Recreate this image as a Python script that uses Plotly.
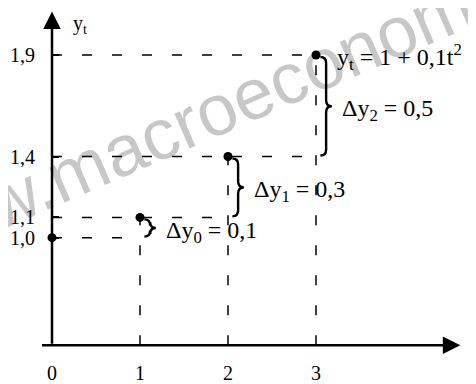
import plotly.graph_objects as go

# ---- data ----
T = [0, 1, 2, 3]
Y = [1.0, 1.1, 1.4, 1.9]
T_LABELS = ["0", "1", "2", "3"]
Y_LABELS = ["1,0", "1,1", "1,4", "1,9"]
EQUATION = "y<sub>t</sub> = 1 + 0,1t<sup>2</sup>"
Y_AXIS_TITLE = "y<sub>t</sub>"
X_AXIS_TITLE = "t"
WATERMARK = "www.macroeconomics"

# ---- layout constants (page has an 8px body margin) ----
W, H = 468, 376
MB = 22
X0PX, XSCALE = 44, 88
YC, YSCALE, YCV = 160, 204.7, 1.35
X_RANGE = [-X0PX / XSCALE, (W - X0PX) / XSCALE]
Y_RANGE = [YCV - (H - MB - YC) / YSCALE, YCV + YC / YSCALE]
Y_BASE = 0.47          # level of the horizontal axis
X_LEFT = -0.13         # left end of horizontal axis
X_END = 4.64           # arrow tip of horizontal axis
Y_END = 2.115          # arrow tip of vertical axis
SERIF = "Liberation Serif"
DASH = "10px,20px"

fig = go.Figure()

# horizontal dashed guides
for k, (t, y) in enumerate(zip(T, Y)):
    end = T[min(k + 1, len(T) - 1)]
    fig.add_trace(go.Scatter(x=[T[0], end], y=[y, y], mode="lines",
                             line=dict(color="black", width=1.5, dash=DASH),
                             hoverinfo="skip", showlegend=False))
# vertical dashed guides
for t, y in zip(T[1:], Y[1:]):
    fig.add_trace(go.Scatter(x=[t, t], y=[Y_BASE, y], mode="lines",
                             line=dict(color="black", width=1.5, dash=DASH),
                             hoverinfo="skip", showlegend=False))
# points
fig.add_trace(go.Scatter(x=T, y=Y, mode="markers",
                         marker=dict(color="black", size=9),
                         showlegend=False))


def brace_path(x0, ylo, yhi, w=0.13, hk=0.03):
    xm = x0 + w / 2
    ym = (ylo + yhi) / 2
    return (f"M {x0},{yhi} Q {xm},{yhi} {xm},{yhi - hk} "
            f"L {xm},{ym + hk} Q {xm},{ym} {x0 + w},{ym} "
            f"Q {xm},{ym} {xm},{ym - hk} "
            f"L {xm},{ylo + hk} Q {xm},{ylo} {x0},{ylo}")


shapes = []
annotations = []
for k in range(len(T) - 1):
    t = T[k + 1]
    ylo, yhi = Y[k], Y[k + 1]
    d = Y[k + 1] - Y[k]
    shapes.append(dict(type="path", xref="x", yref="y",
                       path=brace_path(t + 0.05, ylo + 0.005, yhi - 0.01),
                       line=dict(color="black", width=2.4)))
    lbl = f"Δy<sub>{k}</sub> = " + f"{d:.1f}".replace(".", ",")
    annotations.append(dict(x=t + 0.27, y=(ylo + yhi) / 2, xref="x", yref="y",
                            text=lbl, showarrow=False, xanchor="left",
                            yanchor="middle", yshift=-4,
                            font=dict(family=SERIF, size=24, color="black")))

# equation label
annotations.append(dict(x=T[-1] + 0.22, y=Y[-1], xref="x", yref="y",
                        text=EQUATION, showarrow=False, xanchor="left",
                        yanchor="middle", yshift=-2,
                        font=dict(family=SERIF, size=24, color="black")))
# axis titles
annotations.append(dict(x=0.22, y=2.05, xref="x", yref="y", text=Y_AXIS_TITLE,
                        showarrow=False, xanchor="left", yanchor="middle",
                        font=dict(family=SERIF, size=20, color="black")))
annotations.append(dict(x=4.76, y=Y_BASE, xref="x", yref="y", yshift=-14,
                        text=X_AXIS_TITLE, showarrow=False, xanchor="left",
                        yanchor="middle",
                        font=dict(family=SERIF, size=20, color="black")))
# axes arrows
annotations.append(dict(x=X_END, y=Y_BASE, ax=X_LEFT, ay=Y_BASE,
                        xref="x", yref="y", axref="x", ayref="y", text="",
                        showarrow=True, arrowhead=2, arrowsize=1.4,
                        arrowwidth=2.5, arrowcolor="black"))
annotations.append(dict(x=0, y=Y_END, ax=0, ay=Y_BASE,
                        xref="x", yref="y", axref="x", ayref="y", text="",
                        showarrow=True, arrowhead=2, arrowsize=1.4,
                        arrowwidth=2.5, arrowcolor="black"))
# watermark
annotations.append(dict(x=212 / W, y=1 - 101 / (H - MB), xref="paper",
                        yref="paper", text=WATERMARK, showarrow=False,
                        textangle=-23.4, xanchor="center", yanchor="middle",
                        font=dict(family="Liberation Sans", size=72,
                                  color="rgba(0,0,0,0.22)")))

fig.update_layout(
    width=W, height=H,
    margin=dict(l=0, r=0, t=0, b=MB),
    paper_bgcolor="white", plot_bgcolor="white",
    shapes=shapes, annotations=annotations,
    xaxis=dict(range=X_RANGE, showgrid=False, zeroline=False, showline=False,
               tickvals=T, ticktext=T_LABELS, ticks="",
               tickfont=dict(family=SERIF, size=20, color="black")),
    yaxis=dict(range=Y_RANGE, showgrid=False, zeroline=False, showline=False,
               anchor="free", position=X0PX / W,
               tickvals=Y, ticktext=Y_LABELS, ticks="inside", ticklen=6,
               tickwidth=1.5, tickcolor="black", ticklabelstandoff=17,
               tickfont=dict(family=SERIF, size=20, color="black")),
)

fig.write_html("out.html")
